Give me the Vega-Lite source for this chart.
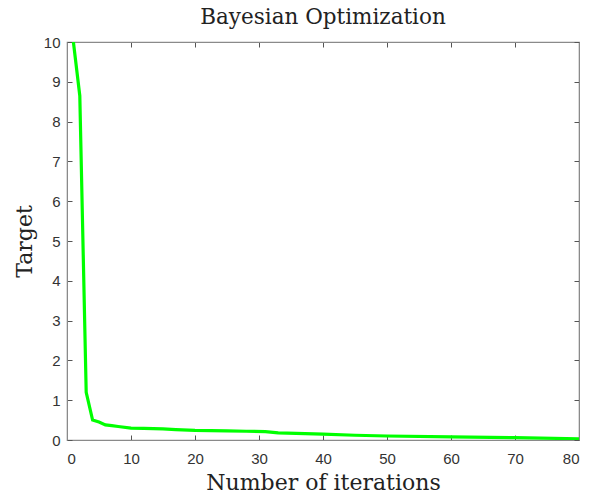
{
  "$schema": "https://vega.github.io/schema/vega-lite/v6.json",
  "autosize": {"type": "none"},
  "width": 512,
  "height": 398,
  "padding": {"left": 67, "top": 42, "right": 10, "bottom": 56},
  "background": "white",
  "title": {"text": "Bayesian Optimization", "font": "DejaVu Serif", "fontSize": 21.5, "fontWeight": "normal", "color": "#222222", "offset": 7},
  "config": {"view": {"stroke": "#8a8a8a", "strokeWidth": 1.2}},
  "data": {"values": [
    {"iter": 1, "target": 10},
    {"iter": 2, "target": 8.65},
    {"iter": 3, "target": 1.2},
    {"iter": 4, "target": 0.5},
    {"iter": 5, "target": 0.45},
    {"iter": 6, "target": 0.38},
    {"iter": 7, "target": 0.36},
    {"iter": 8, "target": 0.34},
    {"iter": 10, "target": 0.3},
    {"iter": 12, "target": 0.29},
    {"iter": 15, "target": 0.28},
    {"iter": 17, "target": 0.26},
    {"iter": 20, "target": 0.24},
    {"iter": 25, "target": 0.23},
    {"iter": 28, "target": 0.22},
    {"iter": 31, "target": 0.21},
    {"iter": 33, "target": 0.18},
    {"iter": 40, "target": 0.15},
    {"iter": 45, "target": 0.12},
    {"iter": 50, "target": 0.1},
    {"iter": 60, "target": 0.08},
    {"iter": 70, "target": 0.06},
    {"iter": 80, "target": 0.03}
  ]},
  "layer": [
    {
      "mark": {"type": "line", "color": "#00ff00", "strokeWidth": 3.2, "clip": true},
      "encoding": {
        "x": {"field": "iter", "type": "quantitative", "scale": {"domain": [0, 80], "nice": false},
          "axis": {"title": "Number of iterations", "titleFont": "DejaVu Serif", "titleFontSize": 22, "titleFontWeight": "normal", "titleColor": "#222222", "titlePadding": 6,
            "values": [0, 10, 20, 30, 40, 50, 60, 70, 80], "labelFont": "Arial", "labelFontSize": 15, "labelColor": "#333333", "labelPadding": 16,
            "tickSize": -5, "tickColor": "#555555", "domainColor": "#8a8a8a", "grid": false}},
        "y": {"field": "target", "type": "quantitative", "scale": {"domain": [0, 10], "nice": false},
          "axis": {"title": "Target", "titleFont": "DejaVu Serif", "titleFontSize": 22, "titleFontWeight": "normal", "titleColor": "#222222", "titlePadding": 7,
            "values": [0, 1, 2, 3, 4, 5, 6, 7, 8, 9, 10], "labelFont": "Arial", "labelFontSize": 15, "labelColor": "#333333", "labelPadding": 12,
            "tickSize": -5, "tickColor": "#555555", "domainColor": "#8a8a8a", "grid": false}}
      }
    },
    {
      "mark": {"type": "line", "opacity": 0},
      "encoding": {
        "x": {"field": "iter", "type": "quantitative", "scale": {"domain": [0, 80], "nice": false},
          "axis": {"orient": "top", "title": null, "labels": false, "values": [0, 10, 20, 30, 40, 50, 60, 70, 80], "tickSize": -5, "tickColor": "#555555", "domainColor": "#8a8a8a", "grid": false}},
        "y": {"field": "target", "type": "quantitative", "scale": {"domain": [0, 10], "nice": false},
          "axis": {"orient": "right", "title": null, "labels": false, "values": [0, 1, 2, 3, 4, 5, 6, 7, 8, 9, 10], "tickSize": -5, "tickColor": "#555555", "domainColor": "#8a8a8a", "grid": false}}
      }
    }
  ],
  "resolve": {"axis": {"x": "independent", "y": "independent"}}
}
